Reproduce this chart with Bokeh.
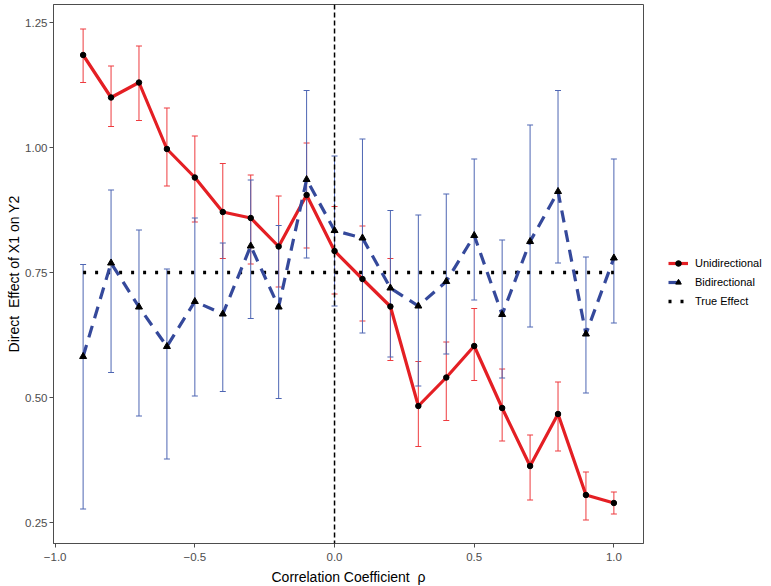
from bokeh.plotting import figure
from bokeh.models import (ColumnDataSource, Whisker, Span, Legend, LegendItem,
                          TeeHead, FixedTicker, Range1d)
from bokeh.embed import file_html
from bokeh.resources import INLINE

rho = [-0.9, -0.8, -0.7, -0.6, -0.5, -0.4, -0.3, -0.2, -0.1, 0.0,
       0.1, 0.2, 0.3, 0.4, 0.5, 0.6, 0.7, 0.8, 0.9, 1.0]

uni_est = [1.185, 1.100, 1.130, 0.997, 0.940, 0.871, 0.859, 0.802, 0.905, 0.793,
           0.737, 0.682, 0.483, 0.540, 0.603, 0.479, 0.363, 0.467, 0.305, 0.289]
uni_hi = [1.237, 1.163, 1.203, 1.079, 1.023, 0.968, 0.945, 0.903, 1.009, 0.882,
          0.843, 0.778, 0.572, 0.611, 0.678, 0.557, 0.425, 0.531, 0.351, 0.311]
uni_lo = [1.130, 1.042, 1.054, 0.923, 0.851, 0.778, 0.767, 0.721, 0.799, 0.707,
          0.653, 0.574, 0.402, 0.454, 0.534, 0.413, 0.295, 0.393, 0.255, 0.267]

bi_est = [0.582, 0.769, 0.681, 0.602, 0.692, 0.667, 0.803, 0.681, 0.936, 0.834,
          0.819, 0.719, 0.683, 0.732, 0.824, 0.666, 0.812, 0.912, 0.627, 0.779]
bi_hi = [0.766, 0.915, 0.835, 0.757, 0.859, 0.809, 0.935, 0.844, 1.114, 0.983,
         1.017, 0.874, 0.865, 0.907, 0.977, 0.815, 1.045, 1.114, 0.781, 0.977]
bi_lo = [0.277, 0.550, 0.463, 0.377, 0.503, 0.512, 0.658, 0.498, 0.779, 0.683,
         0.629, 0.581, 0.523, 0.587, 0.695, 0.539, 0.641, 0.769, 0.509, 0.649]

true_effect = [0.75] * len(rho)

x_ticks = [-1.0, -0.5, 0.0, 0.5, 1.0]
x_tick_labels = {-1.0: "\u22121.0", -0.5: "\u22120.5", 0.0: "0.0", 0.5: "0.5", 1.0: "1.0"}
y_ticks = [0.25, 0.5, 0.75, 1.0, 1.25]
y_tick_labels = {0.25: "0.25", 0.5: "0.50", 0.75: "0.75", 1.0: "1.00", 1.25: "1.25"}

RED = "#e41f24"
RED_ERR = "#ee3b3f"
BLUE = "#35499b"
BLUE_ERR = "#4e66b3"
FONT = "Liberation Sans"

src_u = ColumnDataSource(dict(x=rho, y=uni_est, lo=uni_lo, hi=uni_hi))
src_b = ColumnDataSource(dict(x=rho, y=bi_est, lo=bi_lo, hi=bi_hi))
src_t = ColumnDataSource(dict(x=rho, y=true_effect))

p = figure(frame_width=590, frame_height=539, output_backend="svg",
           toolbar_location=None,
           x_range=Range1d(-1.006, 1.106), y_range=Range1d(0.208, 1.286),
           min_border_left=53, min_border_right=128, min_border_top=4,
           min_border_bottom=43)

p.xgrid.visible = False
p.ygrid.visible = False
p.outline_line_color = "#4d4d4d"
p.outline_line_width = 1
p.background_fill_color = "white"
p.border_fill_color = "white"

for ax in (p.xaxis[0], p.yaxis[0]):
    ax.axis_line_color = "#4d4d4d"
    ax.major_tick_line_color = "#4d4d4d"
    ax.major_tick_out = 4
    ax.major_tick_in = 0
    ax.minor_tick_line_color = None
    ax.major_label_text_font = FONT
    ax.major_label_text_font_size = "11.5px"
    ax.major_label_text_color = "#4d4d4d"
    ax.axis_label_text_font = FONT
    ax.axis_label_text_font_size = "14px"
    ax.axis_label_text_font_style = "normal"
    ax.axis_label_text_color = "black"

p.xaxis.major_label_standoff = 5
p.xaxis.axis_label_standoff = 5
p.yaxis.major_label_standoff = 2
p.yaxis.axis_label_standoff = 0

p.xaxis.ticker = FixedTicker(ticks=x_ticks)
p.xaxis.major_label_overrides = x_tick_labels
p.yaxis.ticker = FixedTicker(ticks=y_ticks)
p.yaxis.major_label_overrides = y_tick_labels
p.xaxis.axis_label = "Correlation Coefficient \u00a0\u03c1"
p.yaxis.axis_label = "Direct \u00a0Effect of X1 on Y2"

# vertical reference line at 0
p.add_layout(Span(location=0, dimension="height", line_color="black",
                  line_width=1.5, line_dash="5 3"))

# error bars
wu = Whisker(source=src_u, base="x", upper="hi", lower="lo",
             line_color=RED_ERR, line_width=1,
             upper_head=TeeHead(size=6, line_color=RED_ERR, line_width=1),
             lower_head=TeeHead(size=6, line_color=RED_ERR, line_width=1))
wb = Whisker(source=src_b, base="x", upper="hi", lower="lo",
             line_color=BLUE_ERR, line_width=1,
             upper_head=TeeHead(size=6, line_color=BLUE_ERR, line_width=1),
             lower_head=TeeHead(size=6, line_color=BLUE_ERR, line_width=1))
p.add_layout(wu)
p.add_layout(wb)

# true effect
lt = p.line("x", "y", source=src_t, line_color="black", line_width=3.5,
            line_dash="3 9")

# series
lu = p.line("x", "y", source=src_u, line_color=RED, line_width=3.2)
lb = p.line("x", "y", source=src_b, line_color=BLUE, line_width=3.2,
            line_dash="12 8")
mu = p.scatter("x", "y", source=src_u, marker="circle", size=5.5,
               fill_color="black", line_color="black")
mb = p.scatter("x", "y", source=src_b, marker="triangle", size=7,
               fill_color="black", line_color="black")

legend = Legend(items=[
    LegendItem(label="Unidirectional", renderers=[lu, mu]),
    LegendItem(label="Bidirectional", renderers=[lb, mb]),
    LegendItem(label="True Effect", renderers=[lt]),
], location=(25, 235), orientation="vertical")
legend.label_text_font = FONT
legend.label_text_font_size = "11px"
legend.label_text_color = "black"
legend.glyph_width = 20
legend.glyph_height = 14
legend.spacing = 5
legend.padding = 0
legend.margin = 0
legend.label_standoff = 7
legend.border_line_color = None
legend.background_fill_alpha = 0
p.add_layout(legend, "right")

open("out.html", "w").write(file_html(p, INLINE))
